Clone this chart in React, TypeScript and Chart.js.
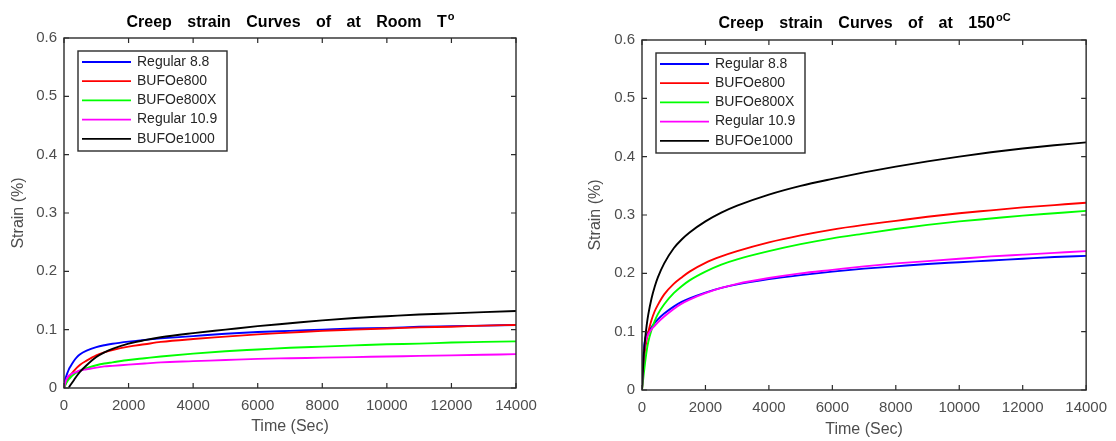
import React, { useEffect, useRef } from "react";
import { Chart, registerables } from "chart.js";

Chart.register(...registerables);

const TIME = [0, 25, 50, 100, 150, 200, 300, 400, 500, 700, 1000, 1250, 1500, 2000, 2500, 3000, 4000, 5000, 6000, 7000, 8000, 9000, 10000, 11000, 12000, 13000, 14000];
const SERIES_NAMES = ["Regular 8.8", "BUFOe800", "BUFOe800X", "Regular 10.9", "BUFOe1000"];
const SERIES_COLORS = ["#0000ff", "#ff0000", "#00ff00", "#ff00ff", "#000000"];
const X_TICKS = [0, 2000, 4000, 6000, 8000, 10000, 12000, 14000];
const Y_TICKS = [0, 0.1, 0.2, 0.3, 0.4, 0.5, 0.6];

// Room temperature
const ROOM_REG88 = [0, 0.01, 0.017, 0.025, 0.032, 0.037, 0.046, 0.053, 0.058, 0.064, 0.07, 0.0733, 0.0758, 0.0795, 0.0825, 0.085, 0.089, 0.093, 0.096, 0.098, 0.1, 0.102, 0.103, 0.105, 0.106, 0.107, 0.108];
const ROOM_E800 = [0, 0.004, 0.008, 0.013, 0.018, 0.022, 0.029, 0.035, 0.04, 0.047, 0.056, 0.061, 0.065, 0.071, 0.075, 0.079, 0.084, 0.088, 0.092, 0.095, 0.098, 0.1, 0.102, 0.104, 0.105, 0.107, 0.108];
const ROOM_E800X = [0, 0.003, 0.006, 0.011, 0.015, 0.018, 0.023, 0.027, 0.03, 0.034, 0.039, 0.042, 0.044, 0.048, 0.051, 0.054, 0.059, 0.063, 0.066, 0.069, 0.071, 0.073, 0.075, 0.076, 0.078, 0.079, 0.08];
const ROOM_REG109 = [0, 0.006, 0.011, 0.017, 0.021, 0.023, 0.026, 0.028, 0.03, 0.032, 0.035, 0.037, 0.038, 0.04, 0.042, 0.044, 0.046, 0.048, 0.05, 0.051, 0.052, 0.053, 0.054, 0.055, 0.056, 0.057, 0.058];
const ROOM_E1000 = [null, null, null, null, 0.001, 0.005, 0.013, 0.021, 0.028, 0.039, 0.053, 0.061, 0.067, 0.076, 0.082, 0.087, 0.094, 0.1, 0.106, 0.111, 0.116, 0.12, 0.123, 0.126, 0.128, 0.13, 0.132];

// 150 °C
const HOT_REG88 = [0, 0.04, 0.065, 0.088, 0.095, 0.1, 0.108, 0.115, 0.121, 0.131, 0.143, 0.151, 0.157, 0.167, 0.175, 0.181, 0.19, 0.197, 0.203, 0.208, 0.212, 0.216, 0.219, 0.222, 0.225, 0.228, 0.23];
const HOT_E800 = [0, 0.022, 0.042, 0.07, 0.087, 0.1, 0.12, 0.135, 0.146, 0.164, 0.182, 0.193, 0.203, 0.218, 0.229, 0.238, 0.253, 0.265, 0.275, 0.283, 0.29, 0.297, 0.303, 0.308, 0.313, 0.317, 0.321];
const HOT_E800X = [0, 0.012, 0.025, 0.048, 0.068, 0.083, 0.103, 0.118, 0.13, 0.147, 0.166, 0.178, 0.188, 0.203, 0.215, 0.224, 0.238, 0.25, 0.26, 0.268, 0.276, 0.283, 0.289, 0.294, 0.299, 0.303, 0.307];
const HOT_REG109 = [0, 0.03, 0.055, 0.08, 0.09, 0.096, 0.104, 0.11, 0.116, 0.126, 0.139, 0.148, 0.155, 0.166, 0.175, 0.182, 0.192, 0.2, 0.206, 0.212, 0.217, 0.221, 0.225, 0.229, 0.232, 0.235, 0.238];
const HOT_E1000 = [0, 0.03, 0.055, 0.088, 0.112, 0.13, 0.157, 0.177, 0.193, 0.217, 0.243, 0.258, 0.27, 0.289, 0.304, 0.316, 0.335, 0.35, 0.362, 0.373, 0.383, 0.392, 0.4, 0.4075, 0.414, 0.4195, 0.4245];

const FONT = "'Liberation Sans', Arial, Helvetica, sans-serif";
const TEXT_GRAY = "#4d4d4d";

type PanelProps = {
  left: number;
  width: number;
  plotLeft: number;
  plotRight: number;
  plotTop: number;
  plotBottom: number;
  title: string;
  sup: string;
  titleY: number;
  xTitleY: number;
  yTitleX: number;
  series: (number | null)[][];
};

function makeDecor(p: PanelProps) {
  return {
    id: "decor",
    afterDraw(chart: any) {
      const ctx: CanvasRenderingContext2D = chart.ctx;
      const a = chart.chartArea;
      const xs = chart.scales.x;
      const ys = chart.scales.y;
      ctx.save();
      // box
      ctx.strokeStyle = "#2b2b2b";
      ctx.lineWidth = 1.4;
      ctx.strokeRect(a.left, a.top, a.right - a.left, a.bottom - a.top);
      // inward ticks
      ctx.lineWidth = 1.2;
      ctx.beginPath();
      X_TICKS.forEach((v) => {
        const px = xs.getPixelForValue(v);
        ctx.moveTo(px, a.bottom);
        ctx.lineTo(px, a.bottom - 5);
        ctx.moveTo(px, a.top);
        ctx.lineTo(px, a.top + 5);
      });
      Y_TICKS.forEach((v) => {
        const py = ys.getPixelForValue(v);
        ctx.moveTo(a.left, py);
        ctx.lineTo(a.left + 5, py);
        ctx.moveTo(a.right, py);
        ctx.lineTo(a.right - 5, py);
      });
      ctx.stroke();

      // title
      const cx = (a.left + a.right) / 2;
      ctx.fillStyle = "#000";
      ctx.font = `bold 16px ${FONT}`;
      (ctx as any).wordSpacing = "11px";
      const mainW = ctx.measureText(p.title).width;
      ctx.font = `bold 11px ${FONT}`;
      (ctx as any).wordSpacing = "0px";
      const supW = ctx.measureText(p.sup).width;
      const startX = cx - (mainW + supW) / 2;
      ctx.textAlign = "left";
      ctx.textBaseline = "alphabetic";
      ctx.font = `bold 16px ${FONT}`;
      (ctx as any).wordSpacing = "11px";
      ctx.fillText(p.title, startX, p.titleY);
      ctx.font = `bold 11px ${FONT}`;
      (ctx as any).wordSpacing = "0px";
      ctx.fillText(p.sup, startX + mainW + 1, p.titleY - 7);

      // axis titles
      ctx.fillStyle = TEXT_GRAY;
      ctx.font = `16px ${FONT}`;
      ctx.textAlign = "center";
      ctx.textBaseline = "middle";
      ctx.fillText("Time (Sec)", cx, p.xTitleY);
      ctx.save();
      ctx.translate(p.yTitleX, (a.top + a.bottom) / 2);
      ctx.rotate(-Math.PI / 2);
      ctx.fillText("Strain (%)", 0, 0);
      ctx.restore();

      // legend
      const lx = a.left + 14;
      const ly = a.top + 13;
      const lw = 149;
      const lh = 100;
      ctx.fillStyle = "#fff";
      ctx.fillRect(lx, ly, lw, lh);
      ctx.strokeStyle = "#2b2b2b";
      ctx.lineWidth = 1.4;
      ctx.strokeRect(lx, ly, lw, lh);
      ctx.font = `14px ${FONT}`;
      ctx.textAlign = "left";
      ctx.textBaseline = "middle";
      SERIES_NAMES.forEach((name, i) => {
        const yy = ly + 11 + i * 19.2;
        ctx.strokeStyle = SERIES_COLORS[i];
        ctx.lineWidth = 1.8;
        ctx.beginPath();
        ctx.moveTo(lx + 4, yy);
        ctx.lineTo(lx + 53, yy);
        ctx.stroke();
        ctx.fillStyle = "#262626";
        ctx.fillText(name, lx + 59, yy);
      });
      ctx.restore();
    },
  };
}

function Panel(p: PanelProps) {
  const ref = useRef<HTMLCanvasElement | null>(null);
  useEffect(() => {
    if (!ref.current) return;
    const datasets = SERIES_NAMES.map((name, i) => ({
      label: name,
      data: TIME.map((t, j) => ({ x: t, y: p.series[i][j] })),
      borderColor: SERIES_COLORS[i],
      backgroundColor: SERIES_COLORS[i],
      borderWidth: 1.9,
      pointRadius: 0,
      cubicInterpolationMode: "monotone" as const,
      fill: false,
    }));
    const yWidth = p.plotLeft;
    const xHeight = 441 - p.plotBottom;
    const chart = new Chart(ref.current, {
      type: "line",
      data: { datasets: datasets.slice().reverse() as any },
      options: {
        responsive: false,
        animation: false,
        layout: {
          padding: { left: 0, top: p.plotTop, right: p.width - p.plotRight, bottom: 0 },
        },
        plugins: {
          legend: { display: false },
          title: { display: false },
          tooltip: { enabled: false },
        },
        scales: {
          x: {
            type: "linear",
            min: 0,
            max: 14000,
            afterBuildTicks: (s: any) => {
              s.ticks = X_TICKS.map((v) => ({ value: v }));
            },
            afterFit: (s: any) => {
              s.height = xHeight;
            },
            grid: { display: false, drawTicks: false },
            border: { display: false },
            ticks: {
              padding: 9,
              color: TEXT_GRAY,
              font: { family: FONT, size: 15 },
              maxRotation: 0,
              callback: (v: any) => String(v),
            },
          },
          y: {
            type: "linear",
            min: 0,
            max: 0.6,
            afterBuildTicks: (s: any) => {
              s.ticks = Y_TICKS.map((v) => ({ value: v }));
            },
            afterFit: (s: any) => {
              s.width = yWidth;
            },
            grid: { display: false, drawTicks: false },
            border: { display: false },
            ticks: {
              padding: 7,
              color: TEXT_GRAY,
              font: { family: FONT, size: 15 },
              callback: (v: any) => (v === 0 ? "0" : String(Math.round(v * 10) / 10)),
            },
          },
        },
      },
      plugins: [makeDecor(p)],
    });
    return () => chart.destroy();
  }, []);
  return (
    <canvas
      ref={ref}
      width={p.width}
      height={441}
      style={{ position: "absolute", left: p.left, top: 0, width: p.width, height: 441 }}
    />
  );
}

export default function App() {
  return (
    <div style={{ position: "fixed", left: 0, top: 0, width: 1116, height: 441, background: "#fff" }}>
      <Panel
        left={0}
        width={560}
        plotLeft={64}
        plotRight={516}
        plotTop={38}
        plotBottom={388}
        title="Creep strain Curves of at Room T"
        sup="o"
        titleY={27}
        xTitleY={427}
        yTitleX={19}
        series={[ROOM_REG88, ROOM_E800, ROOM_E800X, ROOM_REG109, ROOM_E1000]}
      />
      <Panel
        left={560}
        width={556}
        plotLeft={82}
        plotRight={529}
        plotTop={40}
        plotBottom={390}
        title="Creep strain Curves of at 150"
        sup="oC"
        titleY={28}
        xTitleY={430}
        yTitleX={36}
        series={[HOT_REG88, HOT_E800, HOT_E800X, HOT_REG109, HOT_E1000]}
      />
    </div>
  );
}
